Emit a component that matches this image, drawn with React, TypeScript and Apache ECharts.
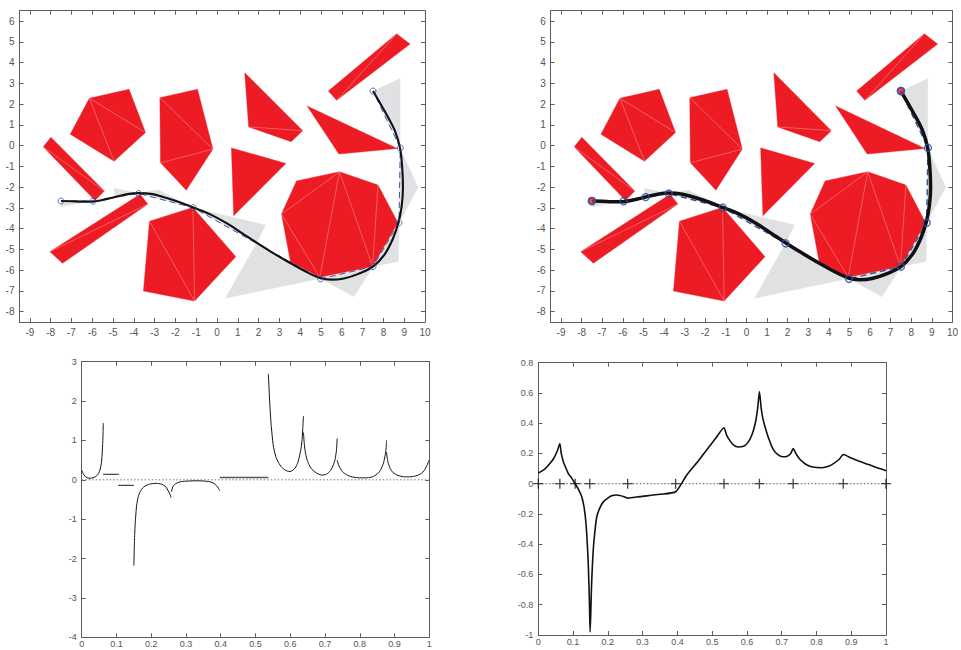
import React, { useEffect, useRef } from "react";
import * as echarts from "echarts";

// ---------- tick values ----------
const topXTicks = [-9, -8, -7, -6, -5, -4, -3, -2, -1, 0, 1, 2, 3, 4, 5, 6, 7, 8, 9, 10];
const topYTicks = [-8, -7, -6, -5, -4, -3, -2, -1, 0, 1, 2, 3, 4, 5, 6];
const bottomXTicks = [0, 0.1, 0.2, 0.3, 0.4, 0.5, 0.6, 0.7, 0.8, 0.9, 1];
const bottomLeftYTicks = [-4, -3, -2, -1, 0, 1, 2, 3];
const bottomRightYTicks = [-1, -0.8, -0.6, -0.4, -0.2, 0, 0.2, 0.4, 0.6, 0.8];

// ---------- obstacles (red, triangulated) ----------
const redPolygons: number[][][] = [
  [[5.35, 2.63], [8.64, 5.39], [9.28, 4.89], [5.75, 2.18]],
  [[-6.14, 2.28], [-4.23, 2.71], [-3.44, 0.63], [-4.95, -0.75], [-7.06, 0.55]],
  [[-2.75, 2.31], [-0.94, 2.71], [-0.2, -0.17], [-1.48, -2.15], [-2.72, -0.83]],
  [[1.33, 3.51], [4.12, 0.72], [3.56, 0.19], [1.52, 0.9]],
  [[4.33, 1.91], [8.67, -0.14], [5.86, -0.41]],
  [[0.69, -0.11], [3.31, -0.86], [0.8, -3.38]],
  [[-8.36, -0.06], [-7.99, 0.4], [-5.42, -2.19], [-5.87, -2.64]],
  [[-8.04, -5.11], [-3.7, -2.35], [-3.33, -2.82], [-7.43, -5.67]],
  [[-3.25, -3.64], [-1.16, -2.98], [0.9, -5.35], [-1.08, -7.49], [-3.54, -7.01]],
  [[5.89, -1.26], [7.74, -1.9], [8.7, -3.72], [7.48, -5.83], [4.94, -6.34], [3.53, -5.6], [3.1, -3.3], [3.82, -1.7]],
];
const redDiagonals: number[][][] = [
  [[3, 1]],
  [[0, 2], [0, 3]],
  [[0, 2], [4, 2]],
  [[3, 1]],
  [],
  [],
  [[0, 2]],
  [[0, 2]],
  [[0, 3], [1, 3]],
  [[0, 6], [0, 4], [0, 3], [1, 3], [6, 4]],
];

// ---------- gray corridor triangles ----------
const grayTriangles: number[][][] = [
  [[-7.5, -2.65], [-7.5, -2.95], [-6.0, -2.65]],
  [[-4.95, -2.06], [-3.8, -2.3], [-4.9, -2.5]],
  [[-3.8, -2.3], [-2.82, -2.14], [-1.15, -3.0]],
  [[-1.15, -3.0], [2.33, -3.83], [1.9, -4.71]],
  [[1.9, -4.71], [0.4, -7.35], [4.97, -6.4]],
  [[4.97, -6.4], [6.58, -7.28], [7.5, -5.83]],
  [[7.5, -5.83], [8.72, -5.59], [8.75, -3.72]],
  [[8.75, -3.72], [9.67, -2.01], [8.8, -0.12]],
  [[8.8, -0.12], [8.8, 3.23], [7.5, 2.63]],
];

// ---------- waypoints & path ----------
const waypointsLeft = [
  [-7.5, -2.67], [-5.96, -2.68], [-3.77, -2.31], [-1.15, -2.99], [4.98, -6.42],
  [7.5, -5.83], [8.75, -3.72], [8.81, -0.11], [7.5, 2.63],
];
const waypointsRight = [
  [-7.5, -2.67], [-5.96, -2.68], [-4.89, -2.48], [-3.77, -2.31], [-1.15, -2.99], [1.9, -4.71],
  [4.98, -6.42], [7.5, -5.83], [8.75, -3.72], [8.81, -0.11], [7.5, 2.63],
];
const pathEnds = [[-7.5, -2.67], [7.5, 2.63]];
const pathCurve = [
  [-7.5, -2.67], [-7.0, -2.68], [-6.5, -2.7], [-6.0, -2.7], [-5.5, -2.62], [-4.9, -2.48], [-4.3, -2.34],
  [-3.8, -2.29], [-3.1, -2.34], [-2.5, -2.5], [-1.8, -2.73], [-1.15, -2.98], [-0.35, -3.3], [0.5, -3.76],
  [1.2, -4.22], [1.9, -4.68], [2.6, -5.12], [3.35, -5.56], [4.2, -6.03], [4.95, -6.38], [5.5, -6.46],
  [6.1, -6.4], [6.8, -6.18], [7.5, -5.83], [8.05, -5.25], [8.45, -4.5], [8.72, -3.72], [8.88, -2.9],
  [8.94, -2.0], [8.9, -1.0], [8.8, -0.12], [8.55, 0.72], [8.15, 1.5], [7.5, 2.63],
];

// ---------- bottom-left pieces ----------
const bl1 = [[0, 0.24], [0.006, 0.13], [0.012, 0.07], [0.018, 0.045], [0.024, 0.04], [0.032, 0.05], [0.04, 0.08], [0.046, 0.13], [0.05, 0.19], [0.054, 0.3], [0.057, 0.45], [0.059, 0.68], [0.0605, 0.95], [0.0615, 1.2], [0.062, 1.44]];
const bl2 = [[0.062, 0.14], [0.107, 0.14]];
const bl3 = [[0.105, -0.14], [0.15, -0.14]];
const bl4 = [[0.15, -2.18], [0.152, -1.5], [0.154, -1.1], [0.158, -0.65], [0.163, -0.42], [0.168, -0.3], [0.175, -0.21], [0.182, -0.16], [0.195, -0.11], [0.211, -0.09], [0.225, -0.1], [0.235, -0.13], [0.243, -0.19], [0.249, -0.28], [0.254, -0.37], [0.257, -0.45]];
const bl5 = [[0.258, -0.3], [0.262, -0.18], [0.268, -0.11], [0.28, -0.06], [0.292, -0.04], [0.31, -0.03], [0.331, -0.025], [0.35, -0.03], [0.369, -0.05], [0.38, -0.09], [0.388, -0.15], [0.393, -0.21], [0.397, -0.27]];
const bl6 = [[0.397, 0.06], [0.537, 0.06]];
const bl7 = [[0.537, 2.69], [0.539, 2.3], [0.541, 1.95], [0.545, 1.4], [0.551, 0.88], [0.558, 0.6], [0.566, 0.44], [0.575, 0.32], [0.585, 0.25], [0.592, 0.22], [0.599, 0.21], [0.607, 0.24], [0.614, 0.3], [0.621, 0.42], [0.626, 0.58], [0.631, 0.8], [0.634, 1.02], [0.636, 1.3], [0.638, 1.62]];
const bl8 = [[0.638, 1.2], [0.64, 0.95], [0.643, 0.72], [0.648, 0.52], [0.652, 0.42], [0.661, 0.28], [0.671, 0.2], [0.68, 0.15], [0.69, 0.12], [0.7, 0.13], [0.709, 0.17], [0.717, 0.25], [0.724, 0.38], [0.729, 0.52], [0.733, 0.76], [0.735, 1.05]];
const bl9 = [[0.735, 0.5], [0.738, 0.4], [0.743, 0.3], [0.752, 0.19], [0.762, 0.13], [0.775, 0.08], [0.791, 0.055], [0.808, 0.05], [0.825, 0.055], [0.84, 0.09], [0.853, 0.17], [0.861, 0.27], [0.868, 0.42], [0.873, 0.62], [0.876, 0.82], [0.877, 1.0]];
const bl10 = [[0.877, 0.7], [0.879, 0.55], [0.882, 0.42], [0.888, 0.28], [0.896, 0.18], [0.91, 0.11], [0.925, 0.08], [0.94, 0.075], [0.954, 0.085], [0.968, 0.12], [0.977, 0.16], [0.985, 0.23], [0.993, 0.36], [1.0, 0.5]];
const bottomLeftPieces = [bl1, bl2, bl3, bl4, bl5, bl6, bl7, bl8, bl9, bl10];

// ---------- bottom-right curve ----------
const brCurve = [
  [0, 0.07], [0.02, 0.1], [0.034, 0.135], [0.045, 0.17], [0.055, 0.22], [0.062, 0.265], [0.066, 0.2],
  [0.072, 0.146], [0.08, 0.1], [0.086, 0.069], [0.095, 0.04], [0.106, 0], [0.115, -0.035], [0.125, -0.086],
  [0.132, -0.16], [0.137, -0.26], [0.141, -0.4], [0.144, -0.55], [0.147, -0.78], [0.149, -0.98], [0.151, -0.85],
  [0.153, -0.68], [0.156, -0.52], [0.16, -0.38], [0.168, -0.22], [0.177, -0.16], [0.187, -0.12], [0.2, -0.095],
  [0.211, -0.08], [0.225, -0.075], [0.235, -0.078], [0.245, -0.085], [0.257, -0.095], [0.292, -0.085],
  [0.35, -0.07], [0.395, -0.053], [0.427, 0.058], [0.46, 0.15], [0.484, 0.223], [0.51, 0.3], [0.534, 0.37],
  [0.542, 0.32], [0.551, 0.285], [0.562, 0.255], [0.575, 0.243], [0.59, 0.247], [0.602, 0.27], [0.614, 0.32],
  [0.624, 0.4], [0.631, 0.5], [0.636, 0.61], [0.641, 0.5], [0.646, 0.43], [0.652, 0.377], [0.664, 0.29],
  [0.676, 0.225], [0.69, 0.19], [0.703, 0.178], [0.716, 0.182], [0.726, 0.2], [0.733, 0.232], [0.742, 0.195],
  [0.753, 0.16], [0.767, 0.132], [0.781, 0.115], [0.8, 0.107], [0.815, 0.106], [0.835, 0.115], [0.85, 0.135],
  [0.865, 0.16], [0.877, 0.193], [0.9, 0.17], [0.925, 0.147], [0.95, 0.127], [0.975, 0.105], [1.0, 0.086],
];
const brBreakpoints = [0, 0.062, 0.106, 0.148, 0.257, 0.395, 0.534, 0.636, 0.733, 0.877, 1.0];
const zeroLine = [[0, 0], [1, 0]];

const FONT = "Liberation Sans, Arial, Helvetica, sans-serif";
const AXIS_COLOR = "#5c5c5c";
const LABEL_COLOR = "#555";

const fmt = (v: number) => String(Math.round(v * 10) / 10);

function makeX(gridIndex: number, min: number, max: number, ticks: number[], pos: string, fontSize: number, margin: number) {
  return {
    type: "value",
    gridIndex,
    position: pos,
    min,
    max,
    axisLine: { show: true, onZero: false, lineStyle: { color: AXIS_COLOR, width: 1 } },
    axisTick: { show: true, inside: true, length: 4, customValues: ticks, lineStyle: { color: AXIS_COLOR, width: 1 } },
    axisLabel: {
      show: pos === "bottom",
      customValues: ticks,
      formatter: fmt,
      color: LABEL_COLOR,
      fontSize,
      fontFamily: FONT,
      margin,
    },
    splitLine: { show: false },
  };
}
function makeY(gridIndex: number, min: number, max: number, ticks: number[], pos: string, fontSize: number, margin: number) {
  return {
    type: "value",
    gridIndex,
    position: pos,
    min,
    max,
    axisLine: { show: true, onZero: false, lineStyle: { color: AXIS_COLOR, width: 1 } },
    axisTick: { show: true, inside: true, length: 4, customValues: ticks, lineStyle: { color: AXIS_COLOR, width: 1 } },
    axisLabel: {
      show: pos === "left",
      customValues: ticks,
      formatter: fmt,
      color: LABEL_COLOR,
      fontSize,
      fontFamily: FONT,
      margin,
    },
    splitLine: { show: false },
  };
}

function polygonSeries(axis: number, polys: number[][][], fill: string, diags: number[][][] | null, z: number) {
  return {
    type: "custom",
    xAxisIndex: axis,
    yAxisIndex: axis,
    z,
    silent: true,
    data: polys.map((p) => p[0]),
    encode: { x: 0, y: 1 },
    renderItem: (params: any, api: any) => {
      const poly = polys[params.dataIndex];
      const pts = poly.map((p) => api.coord(p));
      const children: any[] = [
        { type: "polygon", shape: { points: pts }, style: { fill, stroke: fill, lineWidth: 0.4 } },
      ];
      if (diags) {
        for (const [a, b] of diags[params.dataIndex]) {
          children.push({
            type: "line",
            shape: { x1: pts[a][0], y1: pts[a][1], x2: pts[b][0], y2: pts[b][1] },
            style: { stroke: "rgba(255,190,190,0.65)", lineWidth: 0.6 },
          });
        }
      }
      return { type: "group", children };
    },
  };
}

function topPanelSeries(axis: number, wps: number[][], curveWidth: number, dashWidth: number, circleSize: number, circleBorder: number, redEnds: boolean) {
  const s: any[] = [
    polygonSeries(axis, grayTriangles, "#e0e1e3", null, 1),
    polygonSeries(axis, redPolygons, "#ed1c24", redDiagonals, 2),
    {
      type: "line",
      xAxisIndex: axis,
      yAxisIndex: axis,
      z: 3,
      data: waypointsRight,
      showSymbol: false,
      silent: true,
      lineStyle: { color: "#3556a8", width: dashWidth, type: [6, 4] },
    },
    {
      type: "line",
      xAxisIndex: axis,
      yAxisIndex: axis,
      z: 4,
      data: pathCurve,
      smooth: 0.35,
      showSymbol: false,
      silent: true,
      lineStyle: { color: "#111", width: curveWidth },
    },
    {
      type: "scatter",
      xAxisIndex: axis,
      yAxisIndex: axis,
      z: 5,
      data: wps,
      symbol: "circle",
      symbolSize: circleSize,
      silent: true,
      itemStyle: { color: "rgba(0,0,0,0)", borderColor: "#2f50a8", borderWidth: circleBorder },
    },
  ];
  if (redEnds) {
    s.push({
      type: "scatter",
      xAxisIndex: axis,
      yAxisIndex: axis,
      z: 6,
      data: pathEnds,
      symbol: "circle",
      symbolSize: circleSize,
      silent: true,
      itemStyle: { color: "#e3262b", borderColor: "#2f50a8", borderWidth: circleBorder },
    });
  }
  return s;
}

export default function App() {
  const ref = useRef<HTMLDivElement>(null);
  useEffect(() => {
    if (!ref.current) return;
    const chart = echarts.init(ref.current, undefined, { renderer: "svg" });
    const grids = [
      { left: 19.5, top: 10.7, width: 405.5, height: 311.3 },
      { left: 550.7, top: 10.7, width: 405, height: 311.3 },
      { left: 81.7, top: 361.7, width: 347.6, height: 275.6 },
      { left: 538.3, top: 362.7, width: 347.7, height: 272.3 },
    ];
    const xAxis: any[] = [];
    const yAxis: any[] = [];
    xAxis.push(makeX(0, -9.5, 10, topXTicks, "bottom", 10, 5), makeX(0, -9.5, 10, topXTicks, "top", 10, 5));
    yAxis.push(makeY(0, -8.5, 6.5, topYTicks, "left", 10, 5), makeY(0, -8.5, 6.5, topYTicks, "right", 10, 5));
    xAxis.push(makeX(1, -9.5, 10, topXTicks, "bottom", 10, 5), makeX(1, -9.5, 10, topXTicks, "top", 10, 5));
    yAxis.push(makeY(1, -8.5, 6.5, topYTicks, "left", 10, 5), makeY(1, -8.5, 6.5, topYTicks, "right", 10, 5));
    xAxis.push(makeX(2, 0, 1, bottomXTicks, "bottom", 9, 2), makeX(2, 0, 1, bottomXTicks, "top", 9, 2));
    yAxis.push(makeY(2, -4, 3, bottomLeftYTicks, "left", 9, 5), makeY(2, -4, 3, bottomLeftYTicks, "right", 9, 5));
    xAxis.push(makeX(3, 0, 1, bottomXTicks, "bottom", 9, 2), makeX(3, 0, 1, bottomXTicks, "top", 9, 2));
    yAxis.push(makeY(3, -1, 0.8, bottomRightYTicks, "left", 9, 5), makeY(3, -1, 0.8, bottomRightYTicks, "right", 9, 5));

    const series: any[] = [];
    series.push(...topPanelSeries(0, waypointsLeft, 2.1, 1, 6, 1, false));
    series.push(...topPanelSeries(2, waypointsRight, 3.5, 1.5, 7, 1.5, true));

    series.push({
      type: "line",
      xAxisIndex: 4,
      yAxisIndex: 4,
      data: zeroLine,
      showSymbol: false,
      silent: true,
      lineStyle: { color: "#777", width: 1, type: [1.5, 2] },
    });
    bottomLeftPieces.forEach((piece, i) => {
      series.push({
        type: "line",
        xAxisIndex: 4,
        yAxisIndex: 4,
        data: piece,
        smooth: 0.2,
        showSymbol: false,
        silent: true,
        lineStyle: { color: i === 5 ? "#555" : "#111", width: i === 5 ? 1.6 : 1 },
      });
    });

    series.push({
      type: "line",
      xAxisIndex: 6,
      yAxisIndex: 6,
      data: zeroLine,
      showSymbol: false,
      silent: true,
      lineStyle: { color: "#555", width: 1, type: [1.5, 2] },
    });
    series.push({
      type: "line",
      xAxisIndex: 6,
      yAxisIndex: 6,
      data: brCurve,
      smooth: 0.2,
      showSymbol: false,
      silent: true,
      lineStyle: { color: "#111", width: 1.6 },
    });
    series.push({
      type: "scatter",
      xAxisIndex: 6,
      yAxisIndex: 6,
      data: brBreakpoints.map((x) => [x, 0]),
      symbol: "path://M0,5L10,5M5,0L5,10",
      symbolSize: 10,
      silent: true,
      itemStyle: { color: "rgba(0,0,0,0)", borderColor: "#111", borderWidth: 1.3 },
    });

    chart.setOption({
      animation: false,
      backgroundColor: "#fff",
      grid: grids,
      xAxis,
      yAxis,
      series,
    });
    return () => chart.dispose();
  }, []);
  return <div ref={ref} style={{ position: "fixed", left: 0, top: 0, width: 961, height: 650 }} />;
}
